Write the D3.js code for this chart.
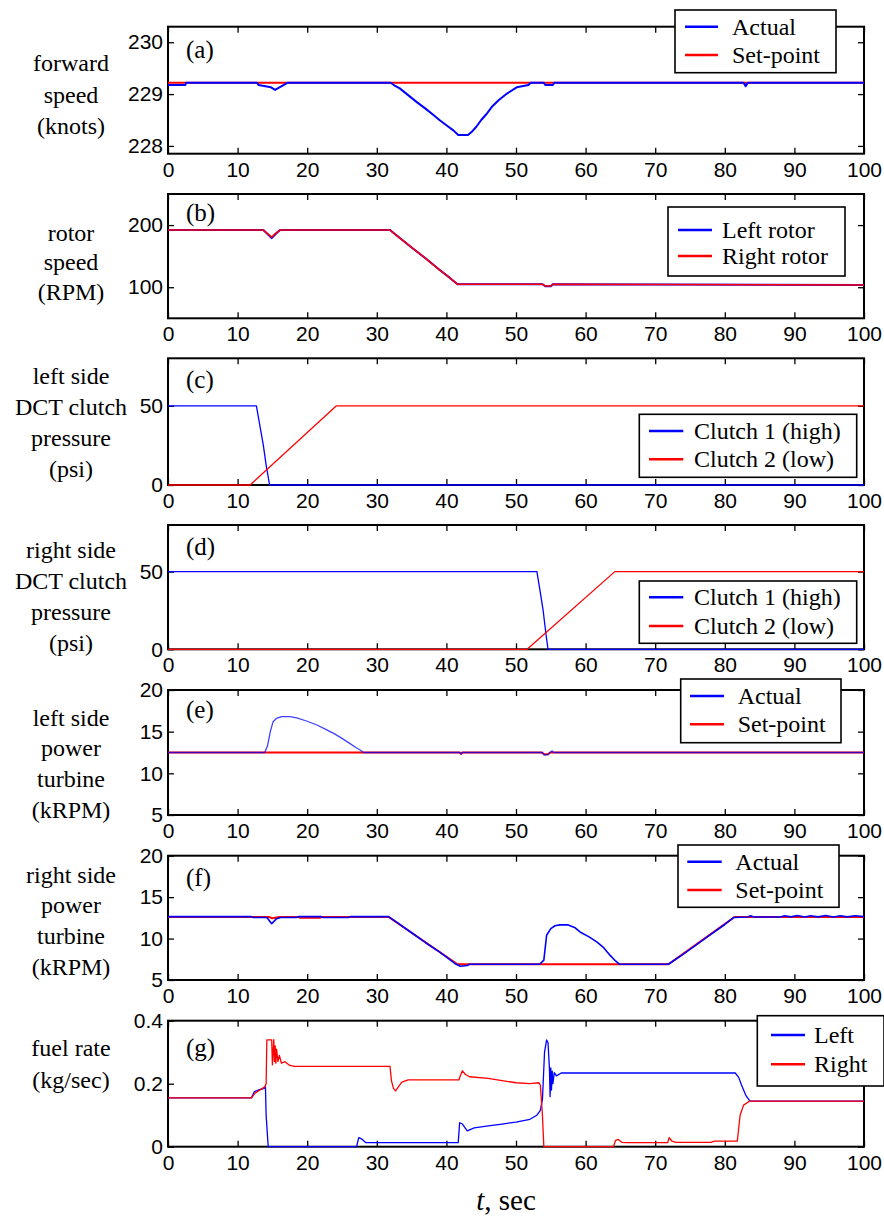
<!DOCTYPE html>
<html>
<head>
<meta charset="utf-8">
<script src="https://cdn.jsdelivr.net/npm/d3@7"></script>
<style>
  body { margin: 0; background: #fff; }
  svg { display: block; }
</style>
</head>
<body>
<svg id="chart" width="884" height="1221"></svg>
<script>
// ---------------- data ----------------
const xTicks = [0, 10, 20, 30, 40, 50, 60, 70, 80, 90, 100];

// (a) forward speed (knots)
const speedTicks = [228, 229, 230];
const speedSetpoint = [[0, 229.22], [100, 229.22]];
const speedActual = [[0, 229.175], [2.5, 229.175], [2.6, 229.22], [12.8, 229.22], [13, 229.175], [14.8, 229.13], [15.4, 229.08], [16, 229.13], [16.6, 229.175], [17.2, 229.22], [32, 229.22], [32.5, 229.17], [33.3, 229.11], [34.5, 228.98], [35.7, 228.85], [37, 228.72], [38.1, 228.6], [39, 228.5], [40, 228.4], [41, 228.3], [41.7, 228.21], [43.1, 228.21], [43.7, 228.28], [44.3, 228.37], [45, 228.5], [45.8, 228.62], [46.5, 228.75], [47.5, 228.88], [48.7, 229.01], [50.1, 229.13], [51.8, 229.175], [52.1, 229.22], [54, 229.22], [54.2, 229.175], [55.3, 229.175], [55.5, 229.22], [82.7, 229.22], [83, 229.15], [83.3, 229.22], [100, 229.22]];

// (b) rotor speed (RPM)
const rotorTicks = [100, 200];
const rotorLeft = [[0, 192], [13.7, 192], [14.9, 179], [15.5, 186], [16.1, 192], [31.9, 192], [33, 182], [35, 164], [37, 146.5], [39, 128], [40.5, 115], [41.6, 104.7], [53.8, 104.7], [54.2, 101.5], [55, 101.5], [55.3, 104.7], [100, 103.5]];
const rotorRight = [[0, 192], [13.7, 192], [14.9, 180.5], [15.5, 187], [16.1, 192], [31.9, 192], [33, 182], [35, 164], [37, 146.5], [39, 128], [40.5, 115], [41.6, 104.7], [53.8, 104.7], [54.2, 102], [55, 102], [55.3, 104.7], [100, 103.5]];

// (c) left side DCT clutch pressure (psi)
const clutchTicks = [0, 50];
const leftClutch1 = [[0, 50], [12.7, 50], [13.1, 40], [13.7, 25], [14.1, 12.6], [14.6, 0], [100, 0]];
const leftClutch2 = [[0, 0], [11.8, 0], [24.2, 50], [100, 50]];

// (d) right side DCT clutch pressure (psi)
const rightClutch1 = [[0, 50], [53.0, 50], [53.3, 42], [53.9, 25], [54.3, 10], [54.6, 0], [100, 0]];
const rightClutch2 = [[0, 0], [51.6, 0], [64.2, 50], [100, 50]];

// (e) left side power turbine (kRPM)
const turbineTicks = [5, 10, 15, 20];
const leftPTSetpoint = [[0, 12.5], [41.9, 12.5], [42.1, 12.35], [42.3, 12.5], [53.7, 12.5], [54, 12.3], [54.6, 12.3], [54.9, 12.5], [100, 12.5]];
const leftPTActual = [[0, 12.5], [13.9, 12.5], [14.3, 13.3], [14.7, 15.0], [15.1, 16.2], [15.6, 16.6], [16.3, 16.8], [17.5, 16.8], [18.5, 16.65], [20, 16.25], [21.4, 15.8], [22.6, 15.3], [23.8, 14.8], [25, 14.2], [26.1, 13.6], [27, 13.1], [27.6, 12.8], [28.1, 12.5], [41.9, 12.5], [42.1, 12.3], [42.3, 12.5], [53.8, 12.5], [54.1, 12.2], [54.6, 12.25], [54.9, 12.5], [55.2, 12.7], [55.4, 12.5], [100, 12.5]];

// (f) right side power turbine (kRPM)
const rightPTSetpoint = [[0, 12.6], [14.5, 12.6], [15, 12.45], [16, 12.6], [18.8, 12.6], [19, 12.5], [21.8, 12.5], [22, 12.6], [31.7, 12.6], [41.6, 6.9], [71.9, 6.9], [81.4, 12.6], [100, 12.6]];
const rightPTActual = [[0, 12.65], [12, 12.65], [12.2, 12.55], [14.2, 12.55], [14.9, 11.8], [15.6, 12.4], [16.2, 12.55], [18.5, 12.55], [18.7, 12.65], [22, 12.65], [22.2, 12.55], [26, 12.55], [26.2, 12.65], [31.7, 12.65], [33, 11.9], [35, 10.7], [37, 9.5], [39, 8.4], [41.2, 7.0], [42, 6.65], [43, 6.75], [43.3, 6.9], [53.4, 6.9], [54.0, 7.4], [54.4, 10.4], [55.0, 11.2], [55.6, 11.55], [56.3, 11.65], [57.5, 11.65], [58.5, 11.3], [59.2, 10.8], [60.5, 10.2], [61.6, 9.6], [62.6, 8.9], [63.5, 8.0], [64.3, 7.3], [64.9, 6.9], [71.9, 6.9], [74, 8.1], [76, 9.3], [78, 10.5], [80, 11.7], [81.3, 12.55], [83.3, 12.6], [83.7, 12.75], [84.2, 12.6], [88, 12.6], [88.6, 12.75], [89.5, 12.62], [90.4, 12.78], [91.5, 12.6], [92.3, 12.76], [93.4, 12.62], [94.5, 12.78], [95.6, 12.6], [96.6, 12.76], [97.6, 12.62], [98.7, 12.76], [100, 12.65]];

// (g) fuel rate (kg/sec)
const fuelTicks = [0, 0.2, 0.4];
const fuelLeft = [[0, 0.155], [12, 0.155], [12.4, 0.175], [13, 0.18], [13.8, 0.185], [14.0, 0.19], [14.1, 0.1], [14.4, 0.0], [27.1, 0.0], [27.4, 0.029], [27.8, 0.025], [28.4, 0.013], [41.7, 0.013], [41.9, 0.076], [42.3, 0.072], [43, 0.05], [44, 0.06], [46, 0.066], [48, 0.072], [50, 0.078], [52, 0.087], [53, 0.1], [53.5, 0.115], [53.8, 0.15], [54.1, 0.3], [54.4, 0.339], [54.6, 0.33], [54.8, 0.25], [54.9, 0.159], [55.0, 0.25], [55.1, 0.18], [55.2, 0.24], [55.3, 0.2], [55.5, 0.235], [55.8, 0.225], [56.5, 0.234], [81.5, 0.234], [82.0, 0.22], [82.4, 0.196], [83.0, 0.164], [83.6, 0.145], [100, 0.145]];
const fuelRight = [[0, 0.155], [12, 0.155], [12.5, 0.17], [13.2, 0.18], [13.9, 0.19], [14.1, 0.2], [14.2, 0.339], [14.9, 0.339], [15.0, 0.26], [15.1, 0.3], [15.2, 0.34], [15.3, 0.27], [15.4, 0.32], [15.5, 0.265], [15.6, 0.31], [15.8, 0.27], [16.0, 0.29], [16.3, 0.265], [16.8, 0.27], [17.5, 0.258], [18.2, 0.255], [31.9, 0.255], [32.1, 0.21], [32.4, 0.185], [32.7, 0.177], [33.1, 0.19], [33.6, 0.205], [34.5, 0.212], [41.8, 0.212], [42.0, 0.225], [42.3, 0.241], [42.7, 0.23], [43.3, 0.222], [46, 0.217], [48, 0.21], [50, 0.203], [52, 0.2], [53.3, 0.203], [53.5, 0.195], [53.8, 0.1], [54.0, 0.0], [64.0, 0.0], [64.3, 0.02], [64.7, 0.023], [65.2, 0.014], [66, 0.013], [71.8, 0.013], [72, 0.029], [72.4, 0.018], [73, 0.014], [78, 0.014], [78.5, 0.018], [81.8, 0.018], [82.2, 0.1], [82.7, 0.132], [83.6, 0.145], [100, 0.145]];

// ---------------- layout ----------------
const BLUE = "#0000ff", RED = "#ff0000";
const X0 = 168, X1 = 864;
const SERIF = "Liberation Serif";
const SANS = "Liberation Sans";

const panels = [
  { tag: "(a)", tagY: 58, top: 26.7, bottom: 153.7, domain: [227.85, 230.3], ticks: speedTicks, fmt: d3.format("d"),
    title: ["forward", "speed", "(knots)"], titleY: [63, 95, 126],
    series: [{ d: speedSetpoint, c: RED, w: 2 }, { d: speedActual, c: BLUE, w: 2 }],
    legend: { x0: 675, y0: 10, x1: 836, y1: 72.7, lx0: 685, lx1: 718, tx: 732,
      rows: [{ label: "Actual", c: BLUE, y: 26.7 }, { label: "Set-point", c: RED, y: 55 }] } },
  { tag: "(b)", tagY: 221, top: 194, bottom: 318.3, domain: [50, 250], ticks: rotorTicks, fmt: d3.format("d"),
    title: ["rotor", "speed", "(RPM)"], titleY: [233, 262, 292],
    series: [{ d: rotorLeft, c: BLUE, w: 2 }, { d: rotorRight, c: RED, w: 1.6 }],
    legend: { x0: 668, y0: 207, x1: 845, y1: 276, lx0: 678, lx1: 712, tx: 722,
      rows: [{ label: "Left rotor", c: BLUE, y: 230 }, { label: "Right rotor", c: RED, y: 256 }] } },
  { tag: "(c)", tagY: 388, top: 358.3, bottom: 485, domain: [0, 80], ticks: clutchTicks, fmt: d3.format("d"),
    title: ["left side", "DCT clutch", "pressure", "(psi)"], titleY: [376, 407, 438, 469],
    series: [{ d: leftClutch1, c: BLUE, w: 1.3 }, { d: leftClutch2, c: RED, w: 1.3 }],
    legend: { x0: 639.3, y0: 414.3, x1: 856.7, y1: 477.3, lx0: 649, lx1: 683.3, tx: 694,
      rows: [{ label: "Clutch 1 (high)", c: BLUE, y: 431 }, { label: "Clutch 2 (low)", c: RED, y: 459.3 }] } },
  { tag: "(d)", tagY: 555, top: 525, bottom: 649.3, domain: [0, 80], ticks: clutchTicks, fmt: d3.format("d"),
    title: ["right side", "DCT clutch", "pressure", "(psi)"], titleY: [550, 581, 612, 643],
    series: [{ d: rightClutch1, c: BLUE, w: 1.3 }, { d: rightClutch2, c: RED, w: 1.3 }],
    legend: { x0: 639.3, y0: 581, x1: 856.7, y1: 643.3, lx0: 649, lx1: 683.3, tx: 694,
      rows: [{ label: "Clutch 1 (high)", c: BLUE, y: 597.3 }, { label: "Clutch 2 (low)", c: RED, y: 626 }] } },
  { tag: "(e)", tagY: 718, top: 690, bottom: 815, domain: [5, 20], ticks: turbineTicks, fmt: d3.format("d"),
    title: ["left side", "power", "turbine", "(kRPM)"], titleY: [718, 748, 779, 810],
    series: [{ d: leftPTSetpoint, c: RED, w: 2 }, { d: leftPTActual, c: BLUE, w: 1.3, o: 0.75 }],
    legend: { x0: 680.7, y0: 679, x1: 841, y1: 742.7, lx0: 690, lx1: 724, tx: 737.7,
      rows: [{ label: "Actual", c: BLUE, y: 696 }, { label: "Set-point", c: RED, y: 724.3 }] } },
  { tag: "(f)", tagY: 886, top: 855.7, bottom: 980, domain: [5, 20], ticks: turbineTicks, fmt: d3.format("d"),
    title: ["right side", "power", "turbine", "(kRPM)"], titleY: [875, 905, 936, 967],
    series: [{ d: rightPTSetpoint, c: RED, w: 2 }, { d: rightPTActual, c: BLUE, w: 1.6 }],
    legend: { x0: 678, y0: 845, x1: 839, y1: 907.3, lx0: 687.3, lx1: 721.7, tx: 735.3,
      rows: [{ label: "Actual", c: BLUE, y: 861.7 }, { label: "Set-point", c: RED, y: 890 }] } },
  { tag: "(g)", tagY: 1056, top: 1020.7, bottom: 1146.7, domain: [0, 0.4], ticks: fuelTicks, fmt: d => d === 0 ? "0" : d3.format(".1f")(d),
    title: ["fuel rate", "(kg/sec)"], titleY: [1048, 1080],
    series: [{ d: fuelLeft, c: BLUE, w: 1.3 }, { d: fuelRight, c: RED, w: 1.3 }],
    legend: { x0: 757.3, y0: 1015.7, x1: 884, y1: 1086, lx0: 771, lx1: 805, tx: 814,
      rows: [{ label: "Left", c: BLUE, y: 1035 }, { label: "Right", c: RED, y: 1064.3 }] } }
];

// ---------------- drawing ----------------
const svg = d3.select("#chart");
svg.append("rect").attr("width", 884).attr("height", 1221).attr("fill", "#fff");

const x = d3.scaleLinear().domain([0, 100]).range([X0, X1]);

panels.forEach(p => {
  const y = d3.scaleLinear().domain(p.domain).range([p.bottom, p.top]);
  const g = svg.append("g");
  const H = p.bottom - p.top;

  // frame
  g.append("rect").attr("x", X0).attr("y", p.top).attr("width", X1 - X0).attr("height", H)
    .attr("fill", "none").attr("stroke", "#000").attr("stroke-width", 2);

  // axes (ticks inward on all four sides)
  const styleAxis = sel => {
    sel.attr("font-family", SANS).attr("font-size", 21);
    sel.select(".domain").remove();
    sel.selectAll(".tick line").attr("stroke", "#000").attr("stroke-width", 1.3);
    sel.selectAll(".tick text").attr("fill", "#000").attr("font-family", SANS).attr("font-size", 21);
  };
  g.append("g").attr("transform", `translate(0,${p.bottom})`)
    .call(d3.axisBottom(x).tickValues(xTicks).tickSize(-6).tickPadding(8).tickFormat(d3.format("d")))
    .call(styleAxis);
  g.append("g").attr("transform", `translate(0,${p.top})`)
    .call(d3.axisTop(x).tickValues(xTicks).tickSize(-6).tickFormat(""))
    .call(styleAxis);
  g.append("g").attr("transform", `translate(${X0},0)`)
    .call(d3.axisLeft(y).tickValues(p.ticks).tickSize(-6).tickPadding(5).tickFormat(p.fmt))
    .call(styleAxis);
  g.append("g").attr("transform", `translate(${X1},0)`)
    .call(d3.axisRight(y).tickValues(p.ticks).tickSize(-6).tickFormat(""))
    .call(styleAxis);

  // series
  const line = d3.line().x(d => x(d[0])).y(d => y(d[1]));
  p.series.forEach(s => {
    g.append("path").datum(s.d).attr("d", line)
      .attr("fill", "none").attr("stroke", s.c).attr("stroke-width", s.w)
      .attr("stroke-opacity", s.o || 1).attr("stroke-linejoin", "round");
  });

  // panel tag
  g.append("text").attr("font-family", SERIF).attr("x", 186).attr("y", p.tagY)
    .attr("font-size", 25).text(p.tag);

  // y title
  p.title.forEach((t, k) => {
    g.append("text").attr("font-family", SERIF).attr("x", 71).attr("y", p.titleY[k]).attr("dy", "0.35em")
      .attr("text-anchor", "middle").attr("font-size", 24).text(t);
  });

  // legend
  const L = p.legend;
  g.append("rect").attr("x", L.x0).attr("y", L.y0).attr("width", L.x1 - L.x0).attr("height", L.y1 - L.y0)
    .attr("fill", "#fff").attr("stroke", "#000").attr("stroke-width", 1.6);
  L.rows.forEach(r => {
    g.append("line").attr("x1", L.lx0).attr("x2", L.lx1).attr("y1", r.y).attr("y2", r.y)
      .attr("stroke", r.c).attr("stroke-width", 2.5);
    g.append("text").attr("font-family", SERIF).attr("x", L.tx).attr("y", r.y).attr("dy", "0.33em")
      .attr("font-size", 24).text(r.label);
  });
});

// x-axis label
const xl = svg.append("text").attr("font-family", SERIF).attr("x", 506).attr("y", 1210)
  .attr("text-anchor", "middle").attr("font-size", 29);
xl.append("tspan").attr("font-style", "italic").text("t");
xl.append("tspan").text(", sec");
</script>
</body>
</html>
